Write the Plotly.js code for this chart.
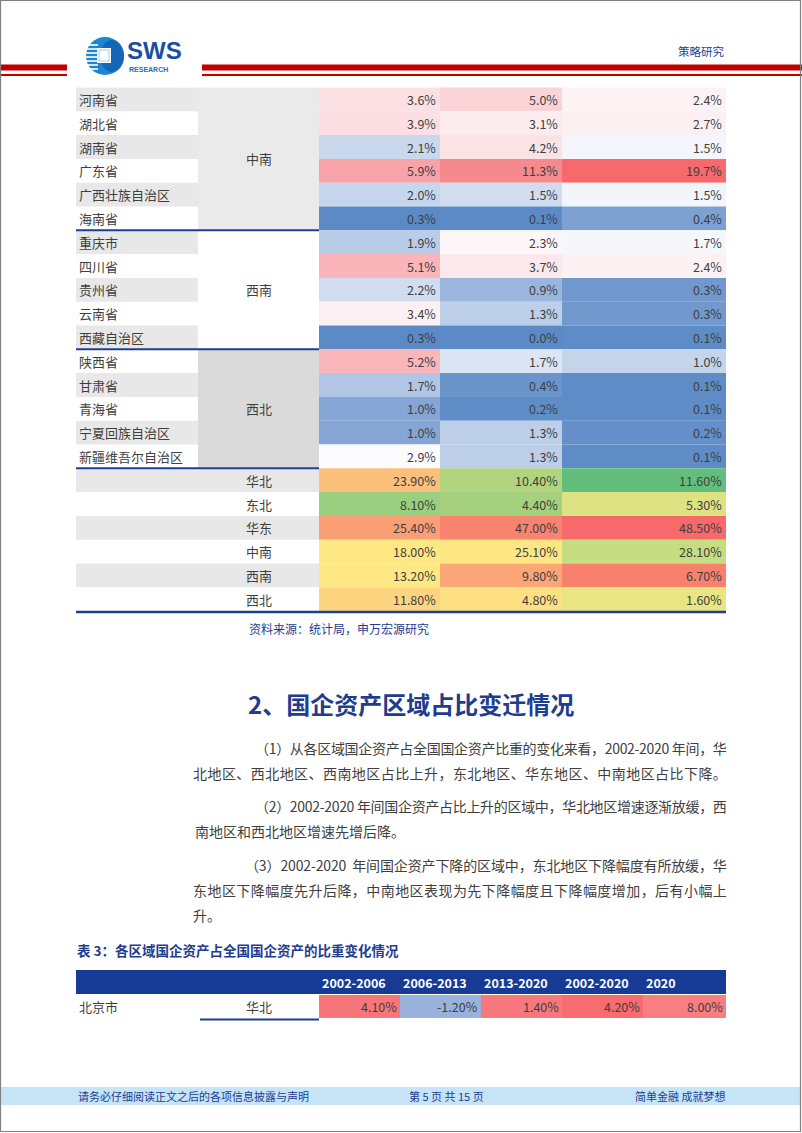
<!DOCTYPE html>
<html><head><meta charset="utf-8">
<script src="https://cdn.plot.ly/plotly-3.0.1.min.js"></script>
<style>html,body{margin:0;padding:0;background:#fff;}#chart{width:802px;height:1133px;}</style>
</head><body><div id="chart"></div>
<script>
// ---------------- DATA ----------------
const provinces = ['河南省','湖北省','湖南省','广东省','广西壮族自治区','海南省','重庆市','四川省','贵州省','云南省','西藏自治区','陕西省','甘肃省','青海省','宁夏回族自治区','新疆维吾尔自治区'];
const provinceGroup = ['中南','中南','中南','中南','中南','中南','西南','西南','西南','西南','西南','西北','西北','西北','西北','西北'];
const shareCol1 = [3.6,3.9,2.1,5.9,2.0,0.3,1.9,5.1,2.2,3.4,0.3,5.2,1.7,1.0,1.0,2.9];
const shareCol2 = [5.0,3.1,4.2,11.3,1.5,0.1,2.3,3.7,0.9,1.3,0.0,1.7,0.4,0.2,1.3,1.3];
const shareCol3 = [2.4,2.7,1.5,19.7,1.5,0.4,1.7,2.4,0.3,0.3,0.1,1.0,0.1,0.1,0.2,0.1];
const regions = ['华北','东北','华东','中南','西南','西北'];
const regionCol1 = [23.9,8.1,25.4,18.0,13.2,11.8];
const regionCol2 = [10.4,4.4,47.0,25.1,9.8,4.8];
const regionCol3 = [11.6,5.3,48.5,28.1,6.7,1.6];
const t3Periods = ['2002-2006','2006-2013','2013-2020','2002-2020','2020'];
const t3Province = '北京市';
const t3Region = '华北';
const t3Values = [4.10,-1.20,1.40,4.20,8.00];

// ---------------- STYLES ----------------
const provColors = [
 ['#fbe1e4','#fad3d7','#fdf3f4'],
 ['#fbdfe2','#fcecee','#fcf0f2'],
 ['#c9d8ed','#fbe2e5','#f4f6fb'],
 ['#f8a3a8','#f6898d','#f8696b'],
 ['#c6d6ec','#d1dcef','#f2f5fa'],
 ['#5b8ac6','#5b8ac6','#7ca1d2'],
 ['#bacde8','#fdf6f7','#f6f7fb'],
 ['#f9b5ba','#fce7ea','#fdf2f3'],
 ['#d1ddef','#9bb6dd','#7199cd'],
 ['#fdf0f2','#bccee8','#7199cd'],
 ['#5b8ac6','#5b8ac6','#5e8cc7'],
 ['#f9b6bb','#dce5f3','#c4d4eb'],
 ['#b1c6e4','#6b94cb','#5e8cc7'],
 ['#85a6d4','#5f8dc8','#5e8cc7'],
 ['#85a6d4','#bccee8','#658fc9'],
 ['#fcfcff','#bccee8','#5e8cc7']
];
const regionColors = [
 ['#fac07c','#b3d47f','#63be7b'],
 ['#9acf7f','#a5d17f','#dde283'],
 ['#fa9e75','#f8836f','#f8696b'],
 ['#fee883','#fee683','#c6dc81'],
 ['#fee883','#fba677','#f8816e'],
 ['#fdd47f','#fedf81','#e9e583']
];
const t3Colors = ['#f7767a','#98b2dc','#f7787c','#f86b6e','#f87e82'];
const groupFill = {'中南':'#eaeaea','西南':'#ffffff','西北':'#dadada'};

const CJK = '"Noto Sans CJK SC", "Noto Sans", sans-serif';
const NAVY = '#1f3c8f';
const TXT = '#3f3f3f';
const colX = [76, 198, 319, 440, 562, 726];
const t3X = [76, 198, 319, 400, 481, 562, 643, 726];
const rowTop = 87.5, rowH = 23.8;

const shapes = [];
const anns = [];
function rect(x0,y0,x1,y1,fill,layer){shapes.push({type:'rect',xref:'x',yref:'y',x0,y0,x1,y1,fillcolor:fill,line:{width:0},layer:layer||'below'});}
function hline(x0,x1,y,color,w){shapes.push({type:'line',xref:'x',yref:'y',x0,x1,y0:y,y1:y,line:{color,width:w}});}
function ann(text,x,y,o){o=o||{};anns.push({text,x,y,xref:'x',yref:'y',showarrow:false,xanchor:o.xa||'left',yanchor:'middle',
  font:{family:o.family||CJK,size:o.size||13,color:o.color||TXT,weight:o.weight||'normal'},borderpad:0});}

// ---------------- PAGE FRAME ----------------
rect(0,64.5,67,70.5,'#c00000');
rect(0,74,67,76,'#c00000');
rect(202,64.5,802,70.5,'#c00000');
rect(202,74,802,76,'#c00000');
// logo
shapes.push({type:'circle',xref:'x',yref:'y',x0:86,x1:124,y0:37,y1:75,fillcolor:'#1d86d3',line:{width:0}});
shapes.push({type:'circle',xref:'x',yref:'y',x0:100,x1:124,y0:40,y1:72,fillcolor:'#1466b8',line:{width:0}});
[45,49,53,57,61,65,69].forEach(y=>hline(86,98,y,'#ffffff',1.6));
rect(97,48,111,63,'#ffffff','above');
shapes.push({type:'rect',xref:'x',yref:'y',x0:99,x1:109,y0:50,y1:61,fillcolor:'rgba(0,0,0,0)',line:{color:'#9fcdf0',width:1}});
ann('<b>SWS</b>',126,50,{family:'"Liberation Sans", Arial, sans-serif',size:24,color:'#1b4ea3'});
ann('<b>RESEARCH</b>',128,69.5,{family:'"Liberation Sans", Arial, sans-serif',size:7,color:'#1b6fc0'});
ann('策略研究',726,51,{xa:'right',size:11.5,color:NAVY});

// ---------------- TABLE (continued) ----------------
const fmt1 = v => v.toFixed(1)+'%';
const fmt2 = v => v.toFixed(2)+'%';
const rowY = i => rowTop + i*rowH;
const shareCols = [shareCol1, shareCol2, shareCol3];
const regionCols = [regionCol1, regionCol2, regionCol3];

provinces.forEach((p,i)=>{
  const y0 = rowY(i), y1 = rowY(i+1), yc = (y0+y1)/2;
  if(i%2===0) rect(colX[0],y0,colX[1],y1,'#e8e8e8');
  ann(p,colX[0]+2,yc,{size:13});
  shareCols.forEach((col,c)=>{
    rect(colX[2+c],y0,colX[3+c],y1,provColors[i][c]);
    ann(fmt1(col[i]),colX[3+c]-3,yc,{xa:'right',size:12.5});
  });
});
let start = 0;
for(let i=1;i<=provinceGroup.length;i++){
  if(i===provinceGroup.length || provinceGroup[i]!==provinceGroup[start]){
    const g = provinceGroup[start];
    rect(colX[1],rowY(start),colX[2],rowY(i),groupFill[g]);
    ann(g,(colX[1]+colX[2])/2,(rowY(start)+rowY(i))/2,{xa:'center',size:13});
    hline(colX[0],colX[2],rowY(i),'#1c3f94',2);
    start = i;
  }
}
regions.forEach((r,k)=>{
  const i = provinces.length + k;
  const y0 = rowY(i), y1 = rowY(i+1), yc = (y0+y1)/2;
  if(i%2===0) rect(colX[0],y0,colX[2],y1,'#e8e8e8');
  ann(r,(colX[1]+colX[2])/2,yc,{xa:'center',size:13});
  regionCols.forEach((col,c)=>{
    rect(colX[2+c],y0,colX[3+c],y1,regionColors[k][c]);
    ann(fmt2(col[k]),colX[3+c]-3,yc,{xa:'right',size:12.5});
  });
});
const tableBottom = rowY(provinces.length+regions.length);
hline(colX[0],colX[5],tableBottom+1,'#1c3f94',2.5);
ann('资料来源：统计局，申万宏源研究',248,628,{size:12,color:NAVY});

// ---------------- SECTION TEXT ----------------
ann('<b>2、国企资产区域占比变迁情况</b>',411,703,{xa:'center',size:24,color:NAVY});

const paraFont = 14;
const ctx = document.createElement('canvas').getContext('2d');
function justified(text,x0,x1){
  ctx.font = paraFont+'px "Noto Sans CJK SC"';
  const w = ctx.measureText(text).width;
  const n = Array.from(text).length;
  const ls = (x1-x0-w)/(n-1);
  return '<span style="letter-spacing:'+ls.toFixed(2)+'px">'+text+'</span>';
}
const paraLines = [
  ['（1）从各区域国企资产占全国国企资产比重的变化来看，2002-2020 年间，华',254,748,true],
  ['北地区、西北地区、西南地区占比上升，东北地区、华东地区、中南地区占比下降。',192,773,true],
  ['（2）2002-2020 年间国企资产占比上升的区域中，华北地区增速逐渐放缓，西',254,806,true],
  ['南地区和西北地区增速先增后降。',194,831,false],
  ['（3）2002-2020  年间国企资产下降的区域中，东北地区下降幅度有所放缓，华',244,865,true],
  ['东地区下降幅度先升后降，中南地区表现为先下降幅度且下降幅度增加，后有小幅上',192,890,true],
  ['升。',192,915,false]
];
paraLines.forEach(([t,x,y,j])=>{
  ann(j?justified(t,x,726):t,x,y,{size:paraFont,color:'#404040'});
});

// ---------------- TABLE 3 ----------------
ann('<b>表 3：各区域国企资产占全国国企资产的比重变化情况</b>',76,950,{size:13.5,color:NAVY});
rect(t3X[0],970,t3X[7],994,'#173b95');
t3Periods.forEach((p,c)=>{
  ann('<b>'+p+'</b>',t3X[2+c]+2,982,{size:12.5,color:'#ffffff'});
});
const t3y0 = 995, t3y1 = 1018, t3yc = (t3y0+t3y1)/2;
ann(t3Province,t3X[0]+2,t3yc,{size:13});
ann(t3Region,(t3X[1]+t3X[2])/2,t3yc,{xa:'center',size:13});
t3Values.forEach((v,c)=>{
  rect(t3X[2+c],t3y0,t3X[3+c],t3y1,t3Colors[c]);
  ann(fmt2(v),t3X[3+c]-2,t3yc,{xa:'right',size:12.5});
});
hline(200,t3X[2],1019.5,'#1c3f94',2);

// ---------------- FOOTER ----------------
rect(1,1087,800,1105,'#c6e4f8');
ann('请务必仔细阅读正文之后的各项信息披露与声明',77,1096,{size:11,color:NAVY});
ann('第 5 页 共 15 页',408,1096,{size:11,color:NAVY});
ann('简单金融 成就梦想',726,1096,{xa:'right',size:11,color:NAVY});
shapes.push({type:'rect',xref:'x',yref:'y',x0:0.5,x1:800.5,y0:0.5,y1:1131.5,fillcolor:'rgba(0,0,0,0)',line:{color:'#808080',width:1.2},layer:'above'});

const layout = {
  width:802,height:1133,margin:{l:0,r:0,t:0,b:0,pad:0},
  paper_bgcolor:'#ffffff',plot_bgcolor:'#ffffff',showlegend:false,
  xaxis:{range:[0,802],visible:false,fixedrange:true},
  yaxis:{range:[1133,0],visible:false,fixedrange:true},
  shapes,annotations:anns
};
Plotly.newPlot('chart',[{type:'scatter',x:[],y:[],mode:'markers',hoverinfo:'skip'}],layout,{staticPlot:true,displayModeBar:false});
</script></body></html>
